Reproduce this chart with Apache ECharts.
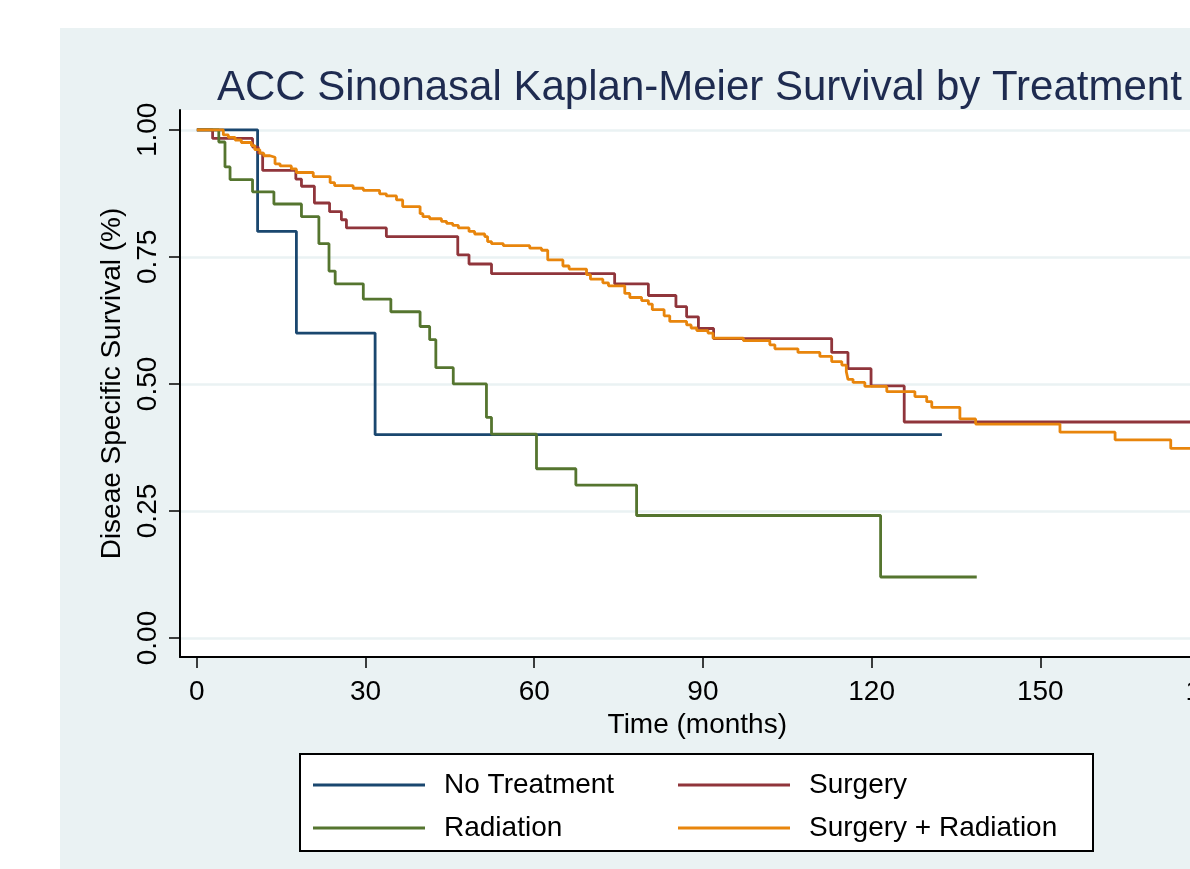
<!DOCTYPE html>
<html>
<head>
<meta charset="utf-8">
<title>ACC Sinonasal Kaplan-Meier Survival by Treatment</title>
<script src="https://cdn.jsdelivr.net/npm/echarts@6/dist/echarts.min.js"></script>
<style>
  html, body { margin: 0; padding: 0; background: #fff; overflow: hidden; width: 1190px; height: 869px; }
  #chart { position: absolute; left: 60px; top: 28px; width: 1240px; height: 841px; }
</style>
</head>
<body>
<div id="chart"></div>
<script>
// survival steps: [time in months, survival after the drop]
var noTreatmentT = [0, 10.8, 17.7, 31.7, 132.5];
var noTreatmentS = [1, 0.8, 0.6, 0.4, 0.4];

var surgeryT = [0, 2.8, 9.9, 10.9, 11.7, 17.6, 18.6, 20.9, 23.6, 25.7, 26.6, 33.7, 46.4, 48.4, 52.4,
  74.3, 80.3, 85.2, 87.1, 89.2, 91.9, 112.9, 115.8, 119.9, 125.8, 181];
var surgeryS = [1, 0.983, 0.966, 0.954, 0.920, 0.903, 0.889, 0.856, 0.839, 0.823, 0.807, 0.790, 0.754, 0.736, 0.717,
  0.697, 0.674, 0.652, 0.632, 0.609, 0.589, 0.562, 0.530, 0.496, 0.425, 0.425];

var radiationT = [0, 3.9, 5.0, 5.9, 9.9, 13.7, 18.6, 21.7, 23.5, 24.6, 29.6, 34.5, 39.7, 41.4, 42.5, 45.6,
  51.5, 52.4, 60.4, 67.4, 78.2, 121.6, 138.7];
var radiationS = [1, 0.976, 0.927, 0.902, 0.878, 0.854, 0.829, 0.776, 0.722, 0.697, 0.667, 0.642, 0.613, 0.587, 0.532, 0.5,
  0.434, 0.401, 0.333, 0.301, 0.241, 0.12, 0.12];

var surgRadT = [0, 4.7, 5.6, 6.8, 7.9, 9.7, 10.3, 11.2, 11.9, 13.0, 13.9, 14.8, 16.8, 17.7, 20.7, 23.7, 24.5, 27.8, 29.6,
  32.5, 33.7, 35.5, 36.6, 39.7, 40.2, 41.4, 43.5, 44.4, 45.5, 46.5, 48.4, 49.4, 51.2, 51.7, 52.4, 54.5, 59.2, 61.3,
  62.4, 65.1, 66.2, 69.3, 70.0, 72.2, 73.2, 76.1, 77.0, 79.1, 80.3, 81.0, 83.1, 84.1, 87.1, 87.9, 88.9, 90.9, 91.8,
  97.2, 101.9, 102.8, 106.9, 110.8, 112.9, 114.7, 115.5, 115.8, 116.7, 118.8, 122.7, 127.7, 129.8, 130.7, 135.7,
  138.5, 153.5, 163.3, 173.2, 181];
var surgRadS = [1, 0.990, 0.985, 0.980, 0.975, 0.969, 0.961, 0.954, 0.949, 0.946, 0.933, 0.929, 0.923, 0.916, 0.908, 0.896, 0.890, 0.885, 0.881,
  0.874, 0.870, 0.862, 0.849, 0.835, 0.829, 0.825, 0.820, 0.816, 0.812, 0.807, 0.800, 0.795, 0.790, 0.780, 0.776, 0.772, 0.767, 0.763,
  0.744, 0.732, 0.726, 0.715, 0.706, 0.699, 0.693, 0.678, 0.670, 0.664, 0.657, 0.646, 0.634, 0.623, 0.616, 0.610, 0.605, 0.600, 0.590,
  0.585, 0.577, 0.569, 0.562, 0.554, 0.544, 0.537, 0.524, 0.509, 0.503, 0.495, 0.485, 0.475, 0.465, 0.454, 0.431,
  0.421, 0.405, 0.390, 0.373, 0.373];

var xTicks = [0, 30, 60, 90, 120, 150, 180];
var yTicks = [0, 0.25, 0.5, 0.75, 1];

var groupNames = ['No Treatment', 'Surgery', 'Radiation', 'Surgery + Radiation'];
var groupColors = ['#1a476f', '#90353b', '#55752f', '#e8850c'];

function pairs(t, s) {
  var out = [];
  for (var i = 0; i < t.length; i++) out.push([t[i], s[i]]);
  return out;
}

var font = 'Liberation Sans, Arial, sans-serif';
var chart = echarts.init(document.getElementById('chart'));

function stepSeries(i, t, s) {
  return {
    name: groupNames[i],
    type: 'line',
    step: 'end',
    data: pairs(t, s),
    showSymbol: false,
    symbol: 'none',
    color: groupColors[i],
    lineStyle: { width: 2.8, color: groupColors[i] },
    z: 3 + i,
    silent: true,
    animation: false
  };
}

chart.setOption({
  backgroundColor: '#eaf2f3',
  animation: false,
  graphic: [
    {
      type: 'text',
      left: 637 - 480, top: 39,
      style: {
        text: 'ACC Sinonasal Kaplan-Meier Survival by Treatment',
        font: '42px ' + font,
        fill: '#1e2b50',
        width: 960,
        align: 'center'
      }
    },
    {
      type: 'rect',
      shape: { x: 240, y: 726, width: 793, height: 97 },
      style: { fill: '#fff', stroke: '#000', lineWidth: 2 },
      z: 0
    }
  ],
  grid: {
    left: 120, top: 82, right: 85.4, bottom: 212,
    show: true, backgroundColor: '#fff', borderWidth: 0
  },
  legend: [
    {
      data: [groupNames[0], groupNames[2]],
      orient: 'vertical',
      left: 248, top: 738,
      itemWidth: 112, itemHeight: 3, itemGap: 15,
      icon: 'rect',
      textStyle: { fontFamily: font, fontSize: 28, color: '#000', padding: [0, 0, 0, 14], lineHeight: 28 },
      z: 5
    },
    {
      data: [groupNames[1], groupNames[3]],
      orient: 'vertical',
      left: 613, top: 738,
      itemWidth: 112, itemHeight: 3, itemGap: 15,
      icon: 'rect',
      textStyle: { fontFamily: font, fontSize: 28, color: '#000', padding: [0, 0, 0, 14], lineHeight: 28 },
      z: 5
    }
  ],
  xAxis: {
    type: 'value',
    min: -3, max: 181,
    name: 'Time (months)',
    nameLocation: 'middle',
    nameGap: 46,
    nameTextStyle: { fontFamily: font, fontSize: 28, color: '#000' },
    axisLine: { show: true, onZero: false, lineStyle: { color: '#000', width: 2 } },
    axisTick: { show: true, length: 11, customValues: xTicks, lineStyle: { color: '#000', width: 1.5 } },
    axisLabel: { customValues: xTicks, margin: 21, fontFamily: font, fontSize: 28, color: '#000' },
    splitLine: { show: false }
  },
  yAxis: {
    type: 'value',
    min: -0.0374, max: 1.039,
    name: 'Diseae Specific Survival (%)',
    nameLocation: 'middle',
    nameRotate: 90,
    nameGap: 54,
    nameTextStyle: { fontFamily: font, fontSize: 28, color: '#000' },
    axisLine: { show: true, onZero: false, lineStyle: { color: '#000', width: 2 } },
    axisTick: { show: true, length: 11, customValues: yTicks, lineStyle: { color: '#000', width: 1.5 } },
    axisLabel: {
      customValues: yTicks, rotate: 90, margin: 18,
      fontFamily: font, fontSize: 28, color: '#000',
      formatter: function (v) { return v.toFixed(2); }
    },
    splitLine: { show: true, lineStyle: { color: '#eaf2f3', width: 2.5 } }
  },
  series: [
    stepSeries(0, noTreatmentT, noTreatmentS),
    stepSeries(1, surgeryT, surgeryS),
    stepSeries(2, radiationT, radiationS),
    stepSeries(3, surgRadT, surgRadS)
  ]
});
</script>
</body>
</html>
